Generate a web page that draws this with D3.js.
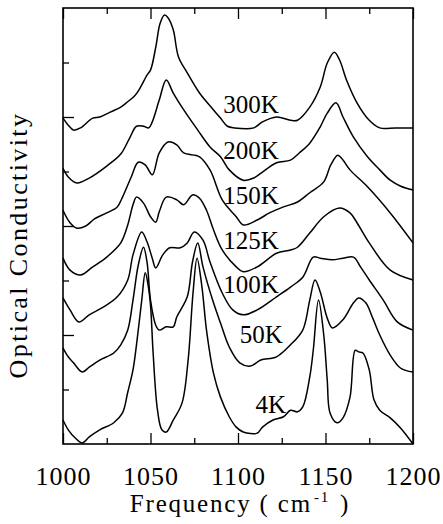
<!DOCTYPE html>
<html>
<head>
<meta charset="utf-8">
<script src="https://cdn.jsdelivr.net/npm/d3@7"></script>
<style>
  html, body { margin: 0; padding: 0; background: #fff; }
  text { font-family: 'Liberation Serif', 'DejaVu Serif', serif; fill: #000; }
</style>
</head>
<body>
<div id="chart"></div>
<script>
// curve labels, top to bottom
const temps = ['300K', '200K', '150K', '125K', '100K', '50K', '4K']

// [frequency (cm-1), optical conductivity (arb. units, curves offset)]
const s300 = [[1000, 5.98], [1003, 5.85], [1006, 5.76], [1010, 5.80], [1017, 5.98], [1021, 6.00], [1027, 6.09],
  [1033, 6.18], [1037, 6.28], [1041, 6.39], [1044, 6.53], [1048, 6.77], [1050, 6.86], [1053, 7.28], [1055.5, 7.72],
  [1058, 7.87], [1060, 7.82], [1063, 7.60], [1066, 7.10], [1071, 6.81], [1078, 6.44], [1086, 6.13], [1090, 5.98],
  [1094, 5.83], [1098, 5.80], [1109, 5.80], [1114, 5.91], [1122, 6.00], [1130, 5.94], [1134, 5.94], [1141, 6.18],
  [1147, 6.55], [1151, 6.99], [1155, 7.19], [1158, 7.05], [1162, 6.68], [1168, 6.26], [1175, 5.94], [1181, 5.80],
  [1190, 5.80], [1200, 5.80]]

const s200 = [[1000, 5.06], [1003, 4.90], [1008, 4.79], [1015, 4.88], [1025, 5.10], [1033, 5.32], [1038, 5.61],
  [1042, 5.83], [1046, 5.83], [1049, 5.80], [1051, 5.91], [1055, 6.31], [1059, 6.68], [1063, 6.44], [1069, 6.13],
  [1077, 5.76], [1084, 5.45], [1090, 5.27], [1095, 5.03], [1103, 4.84], [1109, 4.88], [1114, 4.99], [1122, 5.16],
  [1130, 5.21], [1135, 5.34], [1141, 5.52], [1147, 5.82], [1151, 6.07], [1156, 6.26], [1160, 6.00], [1166, 5.63],
  [1174, 5.27], [1181, 5.03], [1187, 4.84], [1193, 4.73], [1200, 4.66]]

const s150 = [[1000, 4.29], [1004, 4.06], [1008, 3.96], [1013, 4.00], [1018, 4.13], [1025, 4.24], [1031, 4.35],
  [1034, 4.53], [1039, 4.90], [1043, 5.17], [1047, 5.12], [1051, 4.94], [1055, 5.34], [1060, 5.54], [1065, 5.49],
  [1069, 5.34], [1078, 5.27], [1084, 5.03], [1091, 4.48], [1099, 4.17], [1103, 4.02], [1111, 4.11], [1118, 4.24],
  [1126, 4.35], [1134, 4.44], [1141, 4.61], [1149, 4.81], [1153, 5.12], [1157, 5.30], [1160, 5.21], [1164, 5.03],
  [1174, 4.72], [1187, 4.24], [1200, 3.69]]

const s125 = [[1000, 3.41], [1004, 3.19], [1010, 3.10], [1017, 3.25], [1025, 3.43], [1033, 3.69], [1037, 4.02],
  [1040, 4.39], [1042, 4.53], [1046, 4.42], [1050, 4.17], [1053, 4.07], [1055, 4.26], [1059, 4.53], [1065, 4.48],
  [1069, 4.39], [1074, 4.57], [1078, 4.51], [1082, 4.29], [1086, 3.93], [1091, 3.56], [1099, 3.25], [1103, 3.16],
  [1111, 3.25], [1122, 3.50], [1130, 3.56], [1134, 3.61], [1141, 3.87], [1149, 4.17], [1158, 4.33], [1164, 4.24],
  [1168, 4.06], [1175, 3.69], [1187, 3.19], [1200, 3.01]]

const s100 = [[1000, 2.68], [1004, 2.46], [1009, 2.24], [1015, 2.37], [1023, 2.51], [1031, 2.70], [1037, 3.01],
  [1040, 3.47], [1045, 3.89], [1048, 3.71], [1051, 3.41], [1053, 3.23], [1057, 3.47], [1061, 3.60], [1067, 3.60],
  [1071, 3.69], [1075, 3.89], [1080, 3.74], [1084, 3.34], [1091, 2.77], [1097, 2.46], [1103, 2.37], [1111, 2.46],
  [1122, 2.70], [1130, 2.88], [1137, 3.06], [1143, 3.43], [1147, 3.41], [1154, 3.38], [1160, 3.41], [1166, 3.43],
  [1170, 3.25], [1175, 3.01], [1183, 2.64], [1191, 2.24], [1200, 2.09]]

const s50 = [[1000, 1.76], [1003, 1.60], [1006, 1.49], [1011, 1.32], [1015, 1.41], [1021, 1.54], [1029, 1.67],
  [1033, 1.82], [1037, 2.09], [1040, 2.64], [1043, 3.28], [1046, 3.61], [1048, 3.34], [1050, 2.64], [1053, 2.18],
  [1055, 2.09], [1059, 2.15], [1063, 2.15], [1065, 2.33], [1071, 2.70], [1074, 3.34], [1077, 3.69], [1080, 3.25],
  [1086, 2.59], [1090, 2.22], [1095, 1.78], [1101, 1.49], [1107, 1.43], [1113, 1.54], [1122, 1.60], [1130, 1.82],
  [1137, 2.09], [1141, 2.64], [1144, 3.01], [1147, 2.79], [1151, 2.31], [1154, 2.13], [1160, 2.28], [1166, 2.59],
  [1169, 2.68], [1173, 2.59], [1177, 2.31], [1181, 2.00], [1187, 1.63], [1193, 1.39], [1200, 1.32]]

const s4 = [[1000, 0.44], [1003, 0.26], [1007, 0.11], [1011, 0.02], [1015, 0.13], [1021, 0.26], [1029, 0.39],
  [1034, 0.57], [1037, 0.95], [1040, 1.36], [1042, 1.82], [1045, 2.64], [1047, 3.14], [1048.6, 2.92], [1050, 2.55],
  [1051.5, 1.67], [1054, 0.62], [1056.5, 0.26], [1059, 0.22], [1063, 0.44], [1068, 0.75], [1071.5, 1.54],
  [1074.3, 2.77], [1076.6, 3.41], [1079.4, 2.88], [1082, 2.09], [1086, 1.30], [1090, 0.86], [1095, 0.50],
  [1099, 0.31], [1103, 0.22], [1111, 0.20], [1114, 0.31], [1120, 0.44], [1126, 0.50], [1130, 0.62], [1134, 0.59],
  [1137, 0.68], [1141, 1.23], [1143, 1.72], [1146, 2.64], [1149, 2.00], [1151, 1.17], [1152.6, 0.57], [1156.6, 0.39],
  [1160, 0.48], [1164, 0.86], [1167, 1.72], [1169, 1.69], [1171.4, 1.67], [1175, 1.36], [1177.7, 0.81], [1181, 0.62],
  [1187, 0.48], [1193, 0.29], [1200, 0.00]]

const series = [s300, s200, s150, s125, s100, s50, s4]

// where each label sits, [frequency, value] of its baseline start
const labelAt = [[1091.5, 6.07], [1091.5, 5.23], [1091.5, 4.40], [1091.5, 3.58], [1091.5, 2.77], [1101, 1.85], [1110, 0.57]]

const xTicks = [1000, 1025, 1050, 1075, 1100, 1125, 1150, 1175, 1200]
const xLabels = [1000, 1050, 1100, 1150, 1200]
const yTicks = [1, 2, 3, 4, 5, 6, 7]

const serif = 'Liberation Serif, DejaVu Serif, serif'
const margin = { top: 8, right: 30, bottom: 80, left: 63 }
const width = 443 - margin.left - margin.right
const height = 524 - margin.top - margin.bottom

const svg = d3.select('#chart')
  .append('svg')
  .attr('width', 443)
  .attr('height', 524)
  .append('g')
  .attr('transform', `translate(${margin.left},${margin.top})`)

const x = d3.scaleLinear().domain([1000, 1200]).range([0, width])
const y = d3.scaleLinear().domain([0, 8]).range([height, 0])

const isMajor = v => v % 50 === 0

// bottom ticks + labels
svg.append('g')
  .attr('transform', `translate(0,${height})`)
  .call(d3.axisBottom(x).tickValues(xTicks).tickSizeOuter(0).tickPadding(17)
    .tickFormat(d => (xLabels.includes(d) ? d : '')))
  .attr('font-family', serif)
  .call(g => g.select('.domain').remove())
  .call(g => g.selectAll('.tick line')
    .attr('y2', d => (isMajor(d) ? -11 : -6))
    .attr('stroke-width', 1.3))
  .call(g => g.selectAll('.tick text')
    .attr('font-size', 26)
    .attr('letter-spacing', 1))

// top ticks
svg.append('g')
  .call(d3.axisTop(x).tickValues(xTicks).tickSizeOuter(0).tickFormat(''))
  .call(g => g.select('.domain').remove())
  .call(g => g.selectAll('.tick line')
    .attr('y2', d => (isMajor(d) ? 11 : 6))
    .attr('stroke-width', 1.3))

// left ticks, no labels
svg.append('g')
  .call(d3.axisLeft(y).tickValues(yTicks).tickSizeOuter(0).tickFormat(''))
  .call(g => g.select('.domain').remove())
  .call(g => g.selectAll('.tick line')
    .attr('x2', d => (d % 2 === 0 ? 11 : 6))
    .attr('stroke-width', 1.3))

// frame
svg.append('rect')
  .attr('width', width)
  .attr('height', height)
  .attr('fill', 'none')
  .attr('stroke', 'black')
  .attr('stroke-width', 1.6)

const line = d3.line()
  .x(d => x(d[0]))
  .y(d => y(d[1]))
  .curve(d3.curveCatmullRom.alpha(0.5))

svg.selectAll('.spectrum')
  .data(series)
  .enter()
  .append('path')
  .attr('class', 'spectrum')
  .attr('d', line)
  .attr('fill', 'none')
  .attr('stroke', 'black')
  .attr('stroke-width', 1.5)
  .attr('stroke-linejoin', 'round')

svg.selectAll('.temp')
  .data(temps)
  .enter()
  .append('text')
  .attr('class', 'temp')
  .attr('x', (_, i) => x(labelAt[i][0]))
  .attr('y', (_, i) => y(labelAt[i][1]))
  .attr('font-family', serif)
  .attr('font-size', 25)
  .text(d => d)

// axis titles
svg.append('text')
  .attr('x', width / 2 + 2)
  .attr('y', height + 68)
  .attr('text-anchor', 'middle')
  .attr('font-family', serif)
  .attr('font-size', 25)
  .attr('letter-spacing', 1.8)
  .call(t => {
    t.append('tspan').text('Frequency ( cm')
    t.append('tspan').attr('font-size', 15).attr('dy', -10).attr('dx', 2).text('-1')
    t.append('tspan').attr('dy', 10).attr('dx', 2).text(' )')
  })

svg.append('text')
  .attr('transform', `translate(${-36},${height / 2 + 19}) rotate(-90)`)
  .attr('text-anchor', 'middle')
  .attr('font-family', serif)
  .attr('font-size', 26)
  .attr('letter-spacing', 2.4)
  .text('Optical Conductivity')
</script>
</body>
</html>
